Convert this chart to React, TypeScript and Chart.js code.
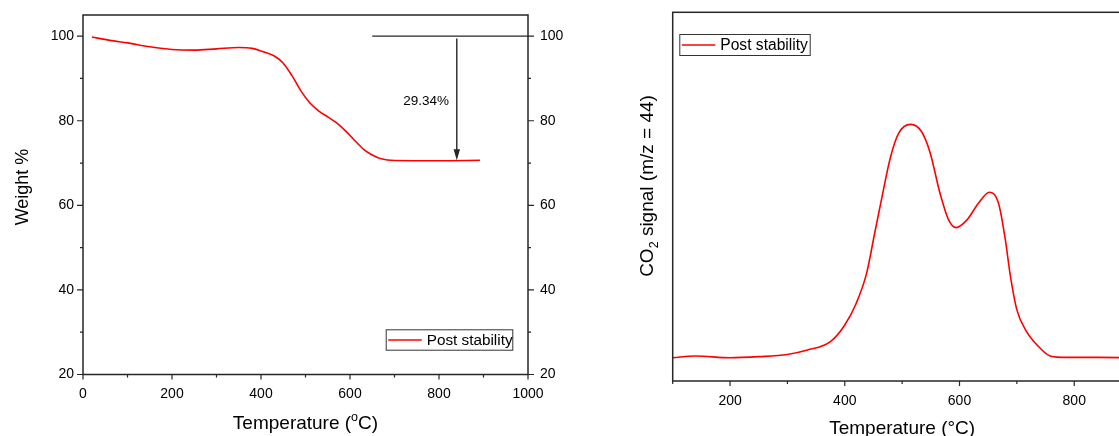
import React, { useEffect, useRef } from "react";
import { Chart, registerables } from "chart.js";

Chart.register(...registerables);

const FONT = '"Liberation Sans", Arial, sans-serif';
const AXIS = "#262626";
const RED = "#ff0000";

// ---- Left panel: TGA ----
const tgaTemperature = [20, 60, 100, 150, 200, 250, 300, 350, 380, 400, 430, 450, 470, 490, 510, 530, 550, 570, 590, 610, 630, 650, 670, 700, 800, 892];
const tgaWeight = [99.8, 99.0, 98.4, 97.5, 96.85, 96.7, 97.0, 97.3, 97.1, 96.5, 95.3, 93.6, 90.6, 87.0, 84.2, 82.3, 80.9, 79.5, 77.6, 75.4, 73.3, 71.9, 71.0, 70.6, 70.55, 70.66];
const tgaXLabels = [0, 200, 400, 600, 800, 1000];
const tgaXMarks = [0, 100, 200, 300, 400, 500, 600, 700, 800, 900, 1000];
const tgaYLabels = [20, 40, 60, 80, 100];
const tgaYMarks = [20, 30, 40, 50, 60, 70, 80, 90, 100];
const lossText = "29.34%";
const lossLineFrom = 650;
const lossLineTo = 1000;
const lossTop = 100;
const arrowTemp = 840;
const arrowFrom = 99.45;
const arrowTo = 70.66;
const lossTextTemp = 771;
const lossTextWeight = 84.6;

// ---- Right panel: CO2 MS signal ----
const msTemperature = [100, 140, 200, 250, 300, 335, 375, 400, 420, 438, 452, 465, 479, 494, 515, 534, 549, 566, 581, 594, 613, 633, 652, 668, 680, 688, 700, 717, 735, 758, 787, 840, 900];
const msSignal = [6.3, 6.8, 6.3, 6.6, 7.2, 8.4, 10.7, 15.2, 21.1, 29.2, 40.0, 50.0, 60.3, 67.2, 69.6, 67.6, 61.8, 50.9, 43.7, 41.6, 43.7, 48.2, 51.2, 48.2, 38.2, 29.2, 19.3, 13.4, 9.8, 6.8, 6.4, 6.4, 6.3];
const msXLabels = [200, 400, 600, 800];
const msXMarks = [100, 200, 300, 400, 500, 600, 700, 800, 900];

const legendLabel = "Post stability";

type Part = { text: string; mode?: "sup" | "sub" };

function drawRich(ctx: CanvasRenderingContext2D, parts: Part[], x: number, y: number, size: number, rotated: boolean) {
  const small = size * 0.66;
  const fontFor = (p: Part) => `${p.mode ? small : size}px ${FONT}`;
  let total = 0;
  const widths = parts.map((p) => {
    ctx.font = fontFor(p);
    const w = ctx.measureText(p.text).width;
    total += w;
    return w;
  });
  ctx.save();
  ctx.translate(x, y);
  if (rotated) ctx.rotate(-Math.PI / 2);
  ctx.fillStyle = "#000";
  ctx.textBaseline = "alphabetic";
  ctx.textAlign = "left";
  let cx = -total / 2;
  parts.forEach((p, i) => {
    ctx.font = fontFor(p);
    const dy = p.mode === "sup" ? -size * 0.42 : p.mode === "sub" ? size * 0.24 : 0;
    ctx.fillText(p.text, cx, dy);
    cx += widths[i];
  });
  ctx.restore();
}

function drawLegend(ctx: CanvasRenderingContext2D, left: number, top: number, w: number, h: number, fontSize: number) {
  ctx.save();
  ctx.fillStyle = "#fff";
  ctx.fillRect(left, top, w, h);
  ctx.strokeStyle = "#333";
  ctx.lineWidth = 1;
  ctx.strokeRect(left + 0.5, top + 0.5, w - 1, h - 1);
  ctx.strokeStyle = RED;
  ctx.lineWidth = 1.5;
  ctx.beginPath();
  ctx.moveTo(left + 2.5, top + h / 2);
  ctx.lineTo(left + 36, top + h / 2);
  ctx.stroke();
  ctx.fillStyle = "#000";
  ctx.font = `${fontSize}px ${FONT}`;
  ctx.textBaseline = "middle";
  ctx.textAlign = "left";
  ctx.fillText(legendLabel, left + 41, top + h / 2 + 1);
  ctx.restore();
}

function drawFrameAndTicks(chart: any, xMarks: number[], xMajor: number[], yMarks: number[], yMajor: number[], rightTicks: boolean) {
  const { ctx, chartArea: a, scales } = chart;
  ctx.save();
  ctx.strokeStyle = AXIS;
  ctx.lineWidth = 1.5;
  ctx.strokeRect(a.left, a.top, a.right - a.left, a.bottom - a.top);
  ctx.lineWidth = 1.2;
  ctx.beginPath();
  xMarks.forEach((v) => {
    const x = scales.x.getPixelForValue(v);
    const len = xMajor.includes(v) ? 5 : 3;
    ctx.moveTo(x, a.bottom);
    ctx.lineTo(x, a.bottom + len);
  });
  yMarks.forEach((v) => {
    const y = scales.y.getPixelForValue(v);
    const len = yMajor.includes(v) ? 6 : 3;
    ctx.moveTo(a.left, y);
    ctx.lineTo(a.left - len, y);
    if (rightTicks) {
      ctx.moveTo(a.right, y);
      ctx.lineTo(a.right + len, y);
    }
  });
  ctx.stroke();
  ctx.restore();
}

const leftOverlay = {
  id: "leftOverlay",
  afterDraw(chart: any) {
    const { ctx, chartArea: a, scales } = chart;
    drawFrameAndTicks(chart, tgaXMarks, tgaXLabels, tgaYMarks, tgaYLabels, true);
    const xs = scales.x;
    const ys = scales.y;
    ctx.save();
    ctx.strokeStyle = AXIS;
    ctx.fillStyle = AXIS;
    ctx.lineWidth = 1.4;
    ctx.beginPath();
    ctx.moveTo(xs.getPixelForValue(lossLineFrom), ys.getPixelForValue(lossTop));
    ctx.lineTo(xs.getPixelForValue(lossLineTo), ys.getPixelForValue(lossTop));
    const ax = xs.getPixelForValue(arrowTemp);
    const tipY = ys.getPixelForValue(arrowTo);
    ctx.moveTo(ax, ys.getPixelForValue(arrowFrom));
    ctx.lineTo(ax, tipY - 8);
    ctx.stroke();
    ctx.beginPath();
    ctx.moveTo(ax, tipY);
    ctx.lineTo(ax - 3.2, tipY - 11);
    ctx.lineTo(ax + 3.2, tipY - 11);
    ctx.closePath();
    ctx.fill();
    ctx.fillStyle = "#000";
    ctx.font = `13.5px ${FONT}`;
    ctx.textAlign = "center";
    ctx.textBaseline = "middle";
    ctx.fillText(lossText, xs.getPixelForValue(lossTextTemp), ys.getPixelForValue(lossTextWeight));
    ctx.restore();
    drawLegend(ctx, a.right - 14.7 - 127.6, a.bottom - 23.8 - 21.4, 127.6, 21.4, 15.3);
    drawRich(ctx, [{ text: "Temperature (" }, { text: "o", mode: "sup" }, { text: "C)" }], (a.left + a.right) / 2, a.bottom + 54.5, 19, false);
    drawRich(ctx, [{ text: "Weight %" }], 27.5, 187, 18, true);
  },
};

const rightOverlay = {
  id: "rightOverlay",
  afterDraw(chart: any) {
    const { ctx, chartArea: a } = chart;
    drawFrameAndTicks(chart, msXMarks, msXLabels, [], [], false);
    drawLegend(ctx, a.left + 6.6, a.top + 21.7, 131.4, 22, 15.6);
    drawRich(ctx, [{ text: "Temperature (°C)" }], (a.left + a.right) / 2, a.bottom + 53, 19, false);
    drawRich(ctx, [{ text: "CO" }, { text: "2", mode: "sub" }, { text: " signal (m/z = 44)" }], 93, 186, 19, true);
  },
};

const tickFont = { family: FONT, size: 14 };
const hidden = { grid: { display: false, drawTicks: false }, border: { display: false } };
const fmt = (v: any) => String(v);
const noPad = (s: any) => {
  s.paddingTop = 0;
  s.paddingBottom = 0;
  s.paddingLeft = 0;
  s.paddingRight = 0;
};

export default function App() {
  const leftRef = useRef<HTMLCanvasElement>(null);
  const rightRef = useRef<HTMLCanvasElement>(null);

  useEffect(() => {
    const left = new Chart(leftRef.current as HTMLCanvasElement, {
      type: "line",
      data: {
        datasets: [
          {
            label: legendLabel,
            data: tgaTemperature.map((t, i) => ({ x: t, y: tgaWeight[i] })),
            borderColor: RED,
            borderWidth: 1.6,
            pointRadius: 0,
            cubicInterpolationMode: "monotone",
            yAxisID: "y",
          },
        ],
      },
      options: {
        responsive: false,
        animation: false,
        layout: { padding: { top: 15, left: 0, right: 0, bottom: 0 } },
        plugins: { legend: { display: false }, tooltip: { enabled: false } },
        scales: {
          x: {
            type: "linear",
            position: "bottom",
            min: 0,
            max: 1000,
            ...hidden,
            afterBuildTicks: (s: any) => { s.ticks = tgaXLabels.map((v) => ({ value: v })); },
            afterFit: (s: any) => { s.height = 61.5; noPad(s); },
            ticks: { font: tickFont, color: "#000", padding: 11, maxRotation: 0, autoSkip: false, callback: fmt },
          },
          y: {
            type: "linear",
            position: "left",
            min: 20,
            max: 105,
            ...hidden,
            afterBuildTicks: (s: any) => { s.ticks = tgaYLabels.map((v) => ({ value: v })); },
            afterFit: (s: any) => { s.width = 83; noPad(s); },
            ticks: { font: tickFont, color: "#000", padding: 9, callback: fmt },
          },
          y2: {
            type: "linear",
            position: "right",
            min: 20,
            max: 105,
            ...hidden,
            afterBuildTicks: (s: any) => { s.ticks = tgaYLabels.map((v) => ({ value: v })); },
            afterFit: (s: any) => { s.width = 52; noPad(s); },
            ticks: { font: tickFont, color: "#000", padding: 12, callback: fmt },
          },
        },
      } as any,
      plugins: [leftOverlay],
    });

    const right = new Chart(rightRef.current as HTMLCanvasElement, {
      type: "line",
      data: {
        datasets: [
          {
            label: legendLabel,
            data: msTemperature.map((t, i) => ({ x: t, y: msSignal[i] })),
            borderColor: RED,
            borderWidth: 1.6,
            pointRadius: 0,
            cubicInterpolationMode: "monotone",
          },
        ],
      },
      options: {
        responsive: false,
        animation: false,
        layout: { padding: { top: 12.3, left: 0, right: 68.4, bottom: 0 } },
        plugins: { legend: { display: false }, tooltip: { enabled: false } },
        scales: {
          x: {
            type: "linear",
            position: "bottom",
            min: 100,
            max: 900,
            ...hidden,
            afterBuildTicks: (s: any) => { s.ticks = msXLabels.map((v) => ({ value: v })); },
            afterFit: (s: any) => { s.height = 55; noPad(s); },
            ticks: { font: tickFont, color: "#000", padding: 12, maxRotation: 0, autoSkip: false, callback: fmt },
          },
          y: {
            type: "linear",
            position: "left",
            min: 0,
            max: 100,
            ...hidden,
            afterFit: (s: any) => { s.width = 112.7; noPad(s); },
            ticks: { display: false },
          },
        },
      } as any,
      plugins: [rightOverlay],
    });

    return () => {
      left.destroy();
      right.destroy();
    };
  }, []);

  return (
    <div style={{ position: "fixed", left: 0, top: 0, width: 1119, height: 436, overflow: "hidden", background: "#fff" }}>
      <canvas ref={leftRef} width={580} height={436} style={{ position: "absolute", left: 0, top: 0, width: 580, height: 436 }} />
      <canvas ref={rightRef} width={640} height={436} style={{ position: "absolute", left: 560, top: 0, width: 640, height: 436 }} />
    </div>
  );
}
